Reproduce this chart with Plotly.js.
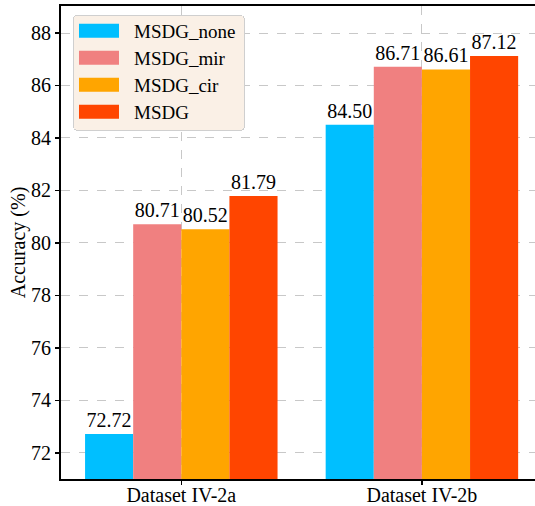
<!DOCTYPE html>
<html>
<head>
<meta charset="utf-8">
<script src="https://cdn.plot.ly/plotly-3.0.1.min.js"></script>
<style>html,body{margin:0;padding:0;overflow:hidden;background:#fff;}#chart{width:535px;height:506px;}</style>
</head>
<body>
<div id="chart"></div>
<script>
const categories = ["Dataset IV-2a", "Dataset IV-2b"];
const seriesNames = ["MSDG_none", "MSDG_mir", "MSDG_cir", "MSDG"];
const msdgNone = [72.72, 84.50];
const msdgMir = [80.71, 86.71];
const msdgCir = [80.52, 86.61];
const msdg = [81.79, 87.12];
const yTicks = [72, 74, 76, 78, 80, 82, 84, 86, 88];

const colors = ["#00BFFF", "#F08080", "#FFA500", "#FF4500"];
const seriesValues = [msdgNone, msdgMir, msdgCir, msdg];
const FONT = "Liberation Serif, Times New Roman, serif";

const traces = seriesValues.map((vals, i) => ({
  type: "bar",
  name: seriesNames[i],
  x: categories,
  y: vals,
  marker: {color: colors[i], line: {width: 0}},
  text: vals.map(v => v.toFixed(2)),
  textposition: "outside",
  constraintext: "none",
  textfont: {family: FONT, size: 20, color: "#000"},
  hoverinfo: "x+y"
}));

const layout = {
  width: 535, height: 506,
  margin: {l: 61, r: 0, t: 6, b: 27, pad: 0},
  paper_bgcolor: "#fff", plot_bgcolor: "#fff",
  font: {family: FONT, size: 20, color: "#000"},
  barmode: "group",
  bargap: 0.2,
  bargroupgap: 0,
  showlegend: true,
  legend: {
    x: 0.0253, y: 0.981, xanchor: "left", yanchor: "top",
    bgcolor: "#FAF0E6", bordercolor: "#cfcfcf", borderwidth: 1,
    font: {family: FONT, size: 19, color: "#000"},
    itemwidth: 50,
    traceorder: "normal"
  },
  xaxis: {
    type: "category",
    range: [-0.5, 1.47],
    showline: true, linecolor: "#000", linewidth: 2, mirror: true,
    ticks: "outside", ticklen: 4, tickwidth: 1.5, tickcolor: "#000",
    ticklabelstandoff: -7,
    showgrid: true, gridcolor: "#c8c8c8", gridwidth: 1, griddash: "dash",
    tickfont: {family: FONT, size: 20, color: "#000"},
    zeroline: false
  },
  yaxis: {
    range: [71, 89.03],
    tickvals: yTicks,
    ticktext: yTicks.map(String),
    showline: true, linecolor: "#000", linewidth: 2,
    ticks: "outside", ticklen: 4, tickwidth: 1.5, tickcolor: "#000",
    showgrid: true, gridcolor: "#c8c8c8", gridwidth: 1, griddash: "dash",
    tickfont: {family: FONT, size: 20, color: "#000"},
    title: {text: "Accuracy (%)", font: {family: FONT, size: 20, color: "#000"}, standoff: 0},
    zeroline: false
  }
};

Plotly.newPlot("chart", traces, layout, {displayModeBar: false, staticPlot: true}).then(() => {
  document.querySelectorAll(".legendpoints path").forEach(p => {
    p.setAttribute("d", "M-25,-7H15V7H-25Z");
  });
  // tighten legend rows and widen the box to match the reference
  const leg = document.querySelector(".legend");
  if (leg) {
    const items = leg.querySelectorAll(".traces");
    const parse = el => {
      const t = (el.getAttribute("transform") || "").match(/translate\(([-\d.]+)[ ,]+([-\d.]+)\)/);
      return t ? [parseFloat(t[1]), parseFloat(t[2])] : [0, 0];
    };
    const y0 = items.length ? parse(items[0])[1] : 0;
    const rowH = 27;
    items.forEach((it, i) => {
      const x = parse(it)[0];
      it.setAttribute("transform", "translate(" + x + "," + (y0 - 4 + i * rowH) + ")");
    });
    const bg = leg.querySelector("rect.bg");
    if (bg) {
      bg.setAttribute("width", 171);
      bg.setAttribute("height", 115);
      bg.setAttribute("rx", 4);
      bg.setAttribute("ry", 4);
    }
  }
});
</script>
</body>
</html>
